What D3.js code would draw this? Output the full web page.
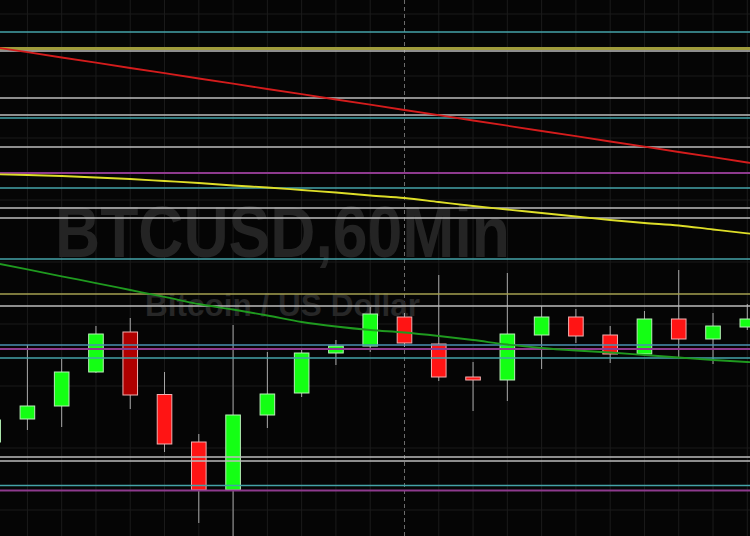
<!DOCTYPE html>
<html><head><meta charset="utf-8">
<script src="https://cdn.jsdelivr.net/npm/d3@7"></script>
<style>html,body{margin:0;padding:0;background:#050505;overflow:hidden}</style>
</head><body><svg id="c" width="750" height="536"></svg>
<script>
// ---- data (prices in USD) ----
const candleIdx = [-1,0,1,2,3,4,5,6,7,8,9,10,11,12,13,14,15,16,17,18,19,20,21];
const opens  = [9158,9181,9194,9228,9268,9205.5,9158,9110,9185,9207,9247,9254,9283,9256,9223,9220,9265,9283,9265,9246,9281,9261,9273];
const highs  = [9186,9255,9241,9274,9282,9228,9166,9275,9248,9250,9260,9293,9287,9325,9238,9327,9294,9291,9274,9289,9330,9287,9296];
const lows   = [9152,9170,9173,9227,9191,9148,9077,9055,9172,9203,9235,9248,9253,9219,9189,9199,9231,9257,9237,9244,9243,9236,9270];
const closes = [9180,9194,9228,9266,9205,9156,9110,9185,9206,9247,9254,9286,9257,9223,9220,9266,9283,9264,9246,9281,9261,9274,9281];

const maIdx = [-1,0,1,2,3,4,5,6,7,8,9,10,11,12,13,14,15,16,17,18,19,20,21,22];
const maSlow = [9553,9547.8,9542.5,9537.3,9532,9526.8,9521.5,9516.3,9511,9505.8,9500.5,9495.3,9490,9484.8,9479.5,9474.3,9469,9463.8,9458.5,9453.3,9448,9442.8,9437.5,9432.3];
const maMid  = [9425.7,9425,9424,9422.5,9421,9419,9417,9414.5,9412.5,9410,9407.5,9404.5,9402,9398,9394,9390.5,9387,9383.5,9380,9377,9374.5,9370.5,9366.7,9363.5];
const maFast = [9337.4,9330.6,9323.7,9316.9,9310,9303.1,9296,9290.5,9284.5,9278,9273.5,9270,9267.5,9264,9260,9255.5,9252,9249.5,9247.5,9245,9242.5,9240,9238,9236.5];

const tealLevels   = [9568,9482,9412,9341,9242,9114.5];
const grayLevels   = [9549,9502,9485,9453,9392,9382,9294,9143,9139];
const purpleLevels = [9427,9251,9109.5];
const oliveLevels  = [9551.5,9306];
const blueLevels   = [9255];
const gridPrices   = [9586,9524,9462,9400,9338,9276,9214,9152,9090];
const markerIdx    = 11;

const title = "BTCUSD,60Min";
const subtitle = "Bitcoin / US Dollar";

// ---- drawing ----
const W = 750, H = 536;
const svg = d3.select("#c");
const x = d3.scaleLinear().domain([0,21]).range([27.4,747.3]);
const y = d3.scaleLinear().domain([9064,9600]).range([H,0]);

svg.append("rect").attr("width",W).attr("height",H).attr("fill","#050505");

// grid
const g = svg.append("g");
g.selectAll("line.h").data(gridPrices).join("line")
  .attr("x1",0).attr("x2",W).attr("y1",d=>y(d)).attr("y2",d=>y(d))
  .attr("stroke","#1b1b1b").attr("stroke-width",1);
g.selectAll("line.v").data(d3.range(0,22).filter(i=>i!==markerIdx)).join("line")
  .attr("x1",d=>x(d)).attr("x2",d=>x(d)).attr("y1",0).attr("y2",H)
  .attr("stroke","#1b1b1b").attr("stroke-width",1);
g.append("line").attr("x1",x(markerIdx)).attr("x2",x(markerIdx)).attr("y1",0).attr("y2",H)
  .attr("stroke","#6e6e6e").attr("stroke-width",1).attr("stroke-dasharray","4,3");

// watermark
svg.append("text").attr("x",55).attr("y",257).text(title)
  .attr("font-family","'Liberation Sans',Arial,sans-serif").attr("font-weight","bold")
  .attr("font-size",72).attr("fill","#242424")
  .attr("textLength",455).attr("lengthAdjust","spacingAndGlyphs");
svg.append("text").attr("x",145).attr("y",316).text(subtitle)
  .attr("font-family","'Liberation Sans',Arial,sans-serif").attr("font-weight","bold")
  .attr("font-size",32).attr("fill","#272727")
  .attr("textLength",275).attr("lengthAdjust","spacingAndGlyphs");

// candles
const candles = candleIdx.map((i,k)=>({i,o:opens[k],h:highs[k],l:lows[k],c:closes[k]}));
const bw = 14.6;
const cg = svg.append("g");
cg.selectAll("line.w").data(candles).join("line")
  .attr("x1",d=>x(d.i)).attr("x2",d=>x(d.i))
  .attr("y1",d=>y(d.h)).attr("y2",d=>y(d.l))
  .attr("stroke","#a8a8a8").attr("stroke-width",1);
cg.selectAll("rect").data(candles).join("rect")
  .attr("x",d=>x(d.i)-bw/2).attr("width",bw)
  .attr("y",d=>y(Math.max(d.o,d.c)))
  .attr("height",d=>Math.max(2,Math.abs(y(d.o)-y(d.c))))
  .attr("fill",d=> d.c>=d.o ? "#14ff14" : (d.i===3 ? "#b00000" : "#ff1414"))
  .attr("stroke",d=> d.c>=d.o ? "#b8f0b8" : "#f0b0b0").attr("stroke-width",1);

// levels
function levels(arr,color,w){
  svg.append("g").selectAll("line").data(arr).join("line")
    .attr("x1",0).attr("x2",W).attr("y1",d=>y(d)).attr("y2",d=>y(d))
    .attr("stroke",color).attr("stroke-width",w);
}
levels(grayLevels,"#bdbdbd",1.5);
levels(tealLevels,"#44a3a8",1.5);
levels(purpleLevels,"#8e3a8e",1.8);
levels(blueLevels,"#4a8fb0",1.5);
svg.append("line").attr("x1",0).attr("x2",W).attr("y1",y(oliveLevels[0])).attr("y2",y(oliveLevels[0]))
  .attr("stroke","#a09c3c").attr("stroke-width",3);
svg.append("line").attr("x1",0).attr("x2",W).attr("y1",y(oliveLevels[1])).attr("y2",y(oliveLevels[1]))
  .attr("stroke","#a4a050").attr("stroke-width",1.3);

// moving averages
function ma(vals,color,curve){
  const line = d3.line().x((d,k)=>x(maIdx[k])).y(d=>y(d)).curve(curve);
  svg.append("path").attr("d",line(vals)).attr("fill","none")
    .attr("stroke",color).attr("stroke-width",1.8);
}
ma(maSlow,"#d41c1c",d3.curveLinear);
ma(maMid,"#dede28",d3.curveMonotoneX);
ma(maFast,"#1f9a1f",d3.curveMonotoneX);
</script></body></html>
